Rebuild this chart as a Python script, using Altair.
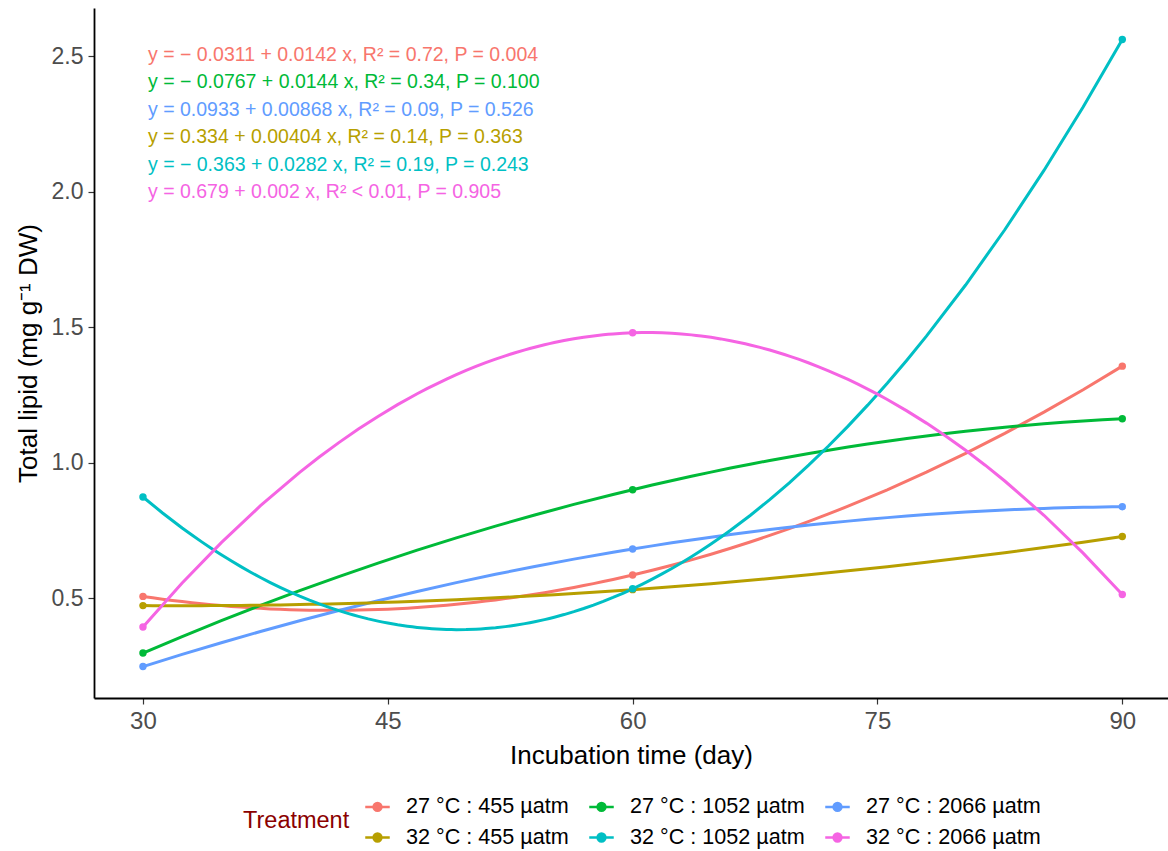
import altair as alt
import pandas as pd

days = [30, 60, 90]
treatments = ["27 °C : 455 µatm", "27 °C : 1052 µatm", "27 °C : 2066 µatm",
              "32 °C : 455 µatm", "32 °C : 1052 µatm", "32 °C : 2066 µatm"]
colors = ["#F8766D", "#00BA38", "#619CFF", "#B79F00", "#00BFC4", "#F564E3"]

lipid_27_455 = [0.507, 0.586, 1.357]
lipid_27_1052 = [0.298, 0.901, 1.163]
lipid_27_2066 = [0.248, 0.682, 0.838]
lipid_32_455 = [0.473, 0.532, 0.728]
lipid_32_1052 = [0.874, 0.535, 2.563]
lipid_32_2066 = [0.394, 1.480, 0.514]

equations = [
    "y = − 0.0311 + 0.0142 x, R² = 0.72, P = 0.004",
    "y = − 0.0767 + 0.0144 x, R² = 0.34, P = 0.100",
    "y = 0.0933 + 0.00868 x, R² = 0.09, P = 0.526",
    "y = 0.334 + 0.00404 x, R² = 0.14, P = 0.363",
    "y = − 0.363 + 0.0282 x, R² = 0.19, P = 0.243",
    "y = 0.679 + 0.002 x, R² < 0.01, P = 0.905",
]

series = [lipid_27_455, lipid_27_1052, lipid_27_2066,
          lipid_32_455, lipid_32_1052, lipid_32_2066]
rows = []
for t, vals in zip(treatments, series):
    for d, v in zip(days, vals):
        rows.append({"Treatment": t, "day": d, "lipid": v})
df = pd.DataFrame(rows)
eq_df = pd.DataFrame({"Treatment": treatments, "label": equations,
                      "idx": list(range(len(equations)))})

FONT = "Liberation Sans"
W, H = 1074, 690

legend = alt.Legend(
    title="Treatment", orient="none", legendX=149, legendY=785,
    columns=3, direction="horizontal", titleOrient="left",
    titleColor="#8B0000", titleFontSize=23.5, titleFontWeight="normal",
    titleFont=FONT, titlePadding=14, titleAnchor="middle",
    labelFont=FONT, labelFontSize=21.6, labelColor="#000000", labelLimit=400,
    labelOffset=15, columnPadding=15, rowPadding=6,
    symbolType="M-1,0L1,0M-0.32,0A0.32,0.32 0 1,0 0.32,0A0.32,0.32 0 1,0 -0.32,0Z",
    symbolSize=600, symbolStrokeWidth=2.5, symbolOpacity=1,
)
cscale = alt.Scale(domain=treatments, range=colors)
color = alt.Color("Treatment:N", scale=cscale, sort=treatments, legend=legend)

x = alt.X("day:Q", scale=alt.Scale(domain=[27, 92.8], nice=False, zero=False),
          axis=alt.Axis(values=[30, 45, 60, 75, 90], title="Incubation time (day)",
                        labelFontSize=24))
y = alt.Y("lipid:Q", scale=alt.Scale(domain=[0.132, 2.679], nice=False, zero=False),
          axis=alt.Axis(values=[0.5, 1.0, 1.5, 2.0, 2.5], format=".1f",
                        title="Total lipid (mg g⁻¹ DW)", labelFontSize=23))

base = alt.Chart(df)

curves = base.transform_regression(
    "day", "lipid", method="poly", order=2, groupby=["Treatment"], extent=[30, 90]
).mark_line(strokeWidth=3).encode(x=x, y=y, color=color)

points = base.mark_circle(size=55, opacity=1).encode(x=x, y=y, color=color)

eqs = alt.Chart(eq_df).transform_calculate(
    ypix="datum.idx * 27.4 + 47"
).mark_text(align="left", baseline="middle", font=FONT, fontSize=19.5).encode(
    x=alt.value(54),
    y=alt.Y("ypix:Q", scale=None),
    text="label:N",
    color=alt.Color("Treatment:N", scale=cscale, legend=None),
)

chart = alt.layer(curves, points, eqs).properties(
    width=W, height=H,
    autosize=alt.AutoSizeParams(type="none"),
    padding={"left": 94, "top": 8, "right": 0, "bottom": 153},
).configure_view(stroke=None).configure_axis(
    grid=False, domainColor="#000000", domainWidth=1.8, tickColor="#333333",
    tickSize=6, tickWidth=1.2, labelFont=FONT, labelColor="#4D4D4D",
    titleFont=FONT, titleFontSize=26, titleFontWeight="normal", titleColor="#000000",
    labelPadding=5,
).configure_axisX(titlePadding=9).configure_axisY(titlePadding=10)

chart.save("out.html", embed_options={"renderer": "svg", "actions": False})
